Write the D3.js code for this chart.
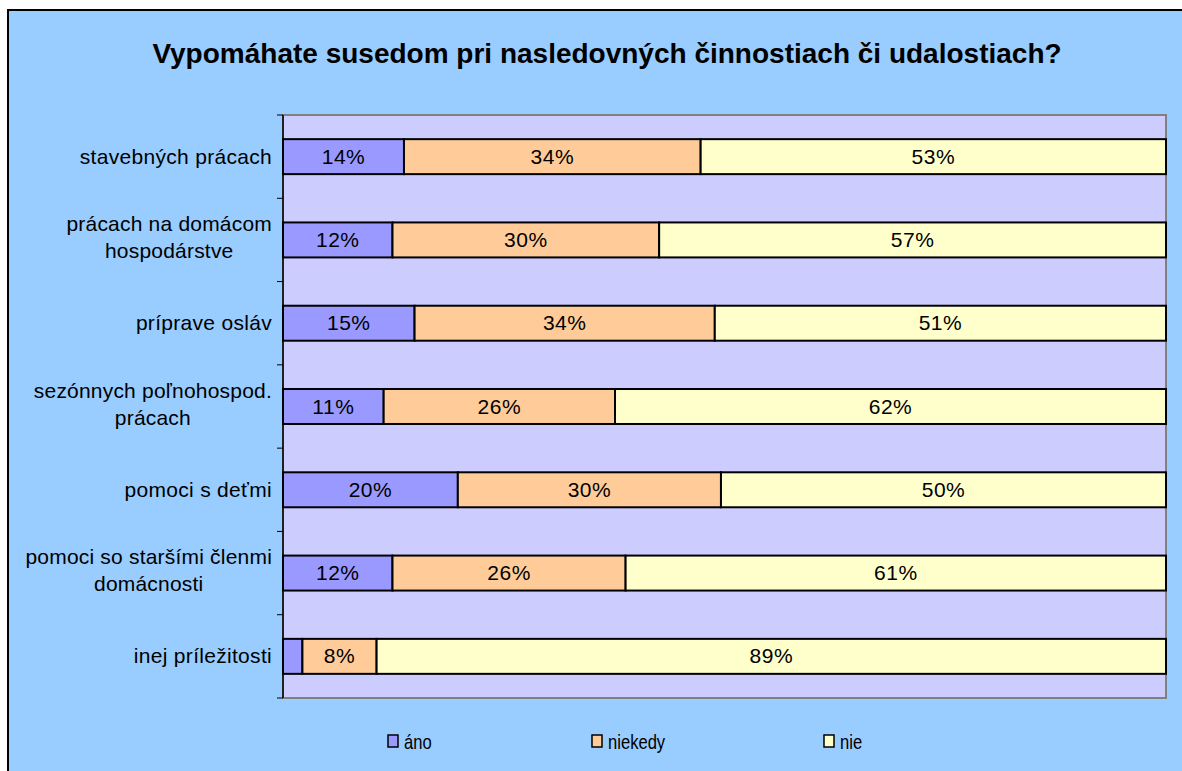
<!DOCTYPE html>
<html>
<head>
<meta charset="utf-8">
<script src="https://cdn.jsdelivr.net/npm/d3@7"></script>
<style>
  body { margin: 0; background: #fff; }
  svg text { font-family: "Liberation Sans", Arial, sans-serif; }
</style>
</head>
<body>
<svg id="chart" width="1182" height="771"></svg>
<script>
// data (share of answers, %)
var categories = [
  ["stavebných prácach"],
  ["prácach na domácom", "hospodárstve"],
  ["príprave osláv"],
  ["sezónnych poľnohospod.", "prácach"],
  ["pomoci s deťmi"],
  ["pomoci so staršími členmi", "domácnosti"],
  ["inej príležitosti"]
];
var ano     = [13.7, 12.4, 14.9, 11.4, 19.8, 12.4, 2.2];
var niekedy = [33.6, 30.2, 34.0, 26.2, 29.8, 26.4, 8.4];
var nie     = [52.7, 57.4, 51.1, 62.4, 50.4, 61.2, 89.4];
var seriesNames = ["áno", "niekedy", "nie"];
var seriesColors = ["#9999FF", "#FFCC99", "#FFFFCC"];

var svg = d3.select("#chart");

// outer chart area
svg.append("rect")
  .attr("x", 8).attr("y", 10)
  .attr("width", 1182).attr("height", 771)
  .attr("fill", "#99CCFF")
  .attr("stroke", "#000").attr("stroke-width", 2);

svg.append("text")
  .attr("x", 607).attr("y", 63)
  .attr("text-anchor", "middle")
  .style("font-size", "28px").style("font-weight", "bold")
  .text("Vypomáhate susedom pri nasledovných činnostiach či udalostiach?");

var plotLeft = 283, plotTop = 115, plotRight = 1166, plotBottom = 698;

var rows = categories.map(function(c, i){
  return {idx: i, "áno": ano[i], "niekedy": niekedy[i], "nie": nie[i]};
});

var x = d3.scaleLinear().domain([0, 100]).range([plotLeft, plotRight]);
var y = d3.scaleBand().domain(d3.range(categories.length)).range([plotTop, plotBottom]).paddingInner(0.58).paddingOuter(0.29);
var band = d3.scaleBand().domain(d3.range(categories.length)).range([plotTop, plotBottom]);

// plot area
svg.append("rect")
  .attr("x", plotLeft).attr("y", plotTop)
  .attr("width", plotRight - plotLeft).attr("height", plotBottom - plotTop)
  .attr("fill", "#CCCCFF")
  .attr("stroke", "#808080").attr("stroke-width", 2);

// left axis with ticks between categories
svg.append("line")
  .attr("x1", plotLeft).attr("x2", plotLeft).attr("y1", plotTop).attr("y2", plotBottom)
  .attr("stroke", "#000").attr("stroke-width", 1.5);
svg.selectAll(".tick")
  .data(d3.range(categories.length + 1))
  .enter().append("line")
  .attr("x1", plotLeft - 6).attr("x2", plotLeft)
  .attr("y1", function(d){ return d < categories.length ? band(d) : plotBottom; })
  .attr("y2", function(d){ return d < categories.length ? band(d) : plotBottom; })
  .attr("stroke", "#000");

var stack = d3.stack().keys(seriesNames)(rows);

var groups = svg.selectAll(".series")
  .data(stack)
  .enter().append("g")
  .attr("fill", function(d, i){ return seriesColors[i]; });

groups.selectAll("rect")
  .data(function(d){ return d; })
  .enter().append("rect")
  .attr("x", function(d){ return x(d[0]); })
  .attr("y", function(d){ return y(d.data.idx); })
  .attr("width", function(d){ return x(d[1]) - x(d[0]); })
  .attr("height", y.bandwidth())
  .attr("stroke", "#000").attr("stroke-width", 2);

groups.selectAll("text")
  .data(function(d){ return d.filter(function(p){ return p[1] - p[0] >= 4; }); })
  .enter().append("text")
  .attr("x", function(d){ return (x(d[0]) + x(d[1])) / 2; })
  .attr("y", function(d){ return y(d.data.idx) + y.bandwidth() / 2 + 7; })
  .attr("text-anchor", "middle")
  .attr("fill", "#000")
  .style("font-size", "21px")
  .style("letter-spacing", "0.5px")
  .text(function(d){ return Math.round(d[1] - d[0]) + "%"; });

// category labels
categories.forEach(function(lines, i){
  var cy = y(i) + y.bandwidth() / 2;
  if (lines.length == 1) {
    svg.append("text")
      .attr("x", 272).attr("y", cy + 7)
      .attr("text-anchor", "end")
      .style("font-size", "21px")
      .style("letter-spacing", "0.3px")
      .text(lines[0]);
  } else {
    var t = svg.append("text").style("font-size", "21px").style("letter-spacing", "0.2px").attr("text-anchor", "middle");
    var tmp = svg.append("text").style("font-size", "21px").style("letter-spacing", "0.2px").text(lines[0]);
    var w = tmp.node().getComputedTextLength();
    tmp.remove();
    var cx = 272 - w / 2;
    lines.forEach(function(l, k){
      t.append("tspan").attr("x", cx).attr("y", cy - 9 + k * 27).text(l);
    });
  }
});

// legend
var legendX = [388, 592, 824];
seriesNames.forEach(function(n, i){
  svg.append("rect")
    .attr("x", legendX[i]).attr("y", 735)
    .attr("width", 10).attr("height", 12)
    .attr("fill", seriesColors[i])
    .attr("stroke", "#000").attr("stroke-width", 1.5);
  svg.append("text")
    .attr("transform", "translate(" + (legendX[i] + 16) + ",749) scale(0.83,1)")
    .style("font-size", "20px")
    .text(n);
});
</script>
</body>
</html>
